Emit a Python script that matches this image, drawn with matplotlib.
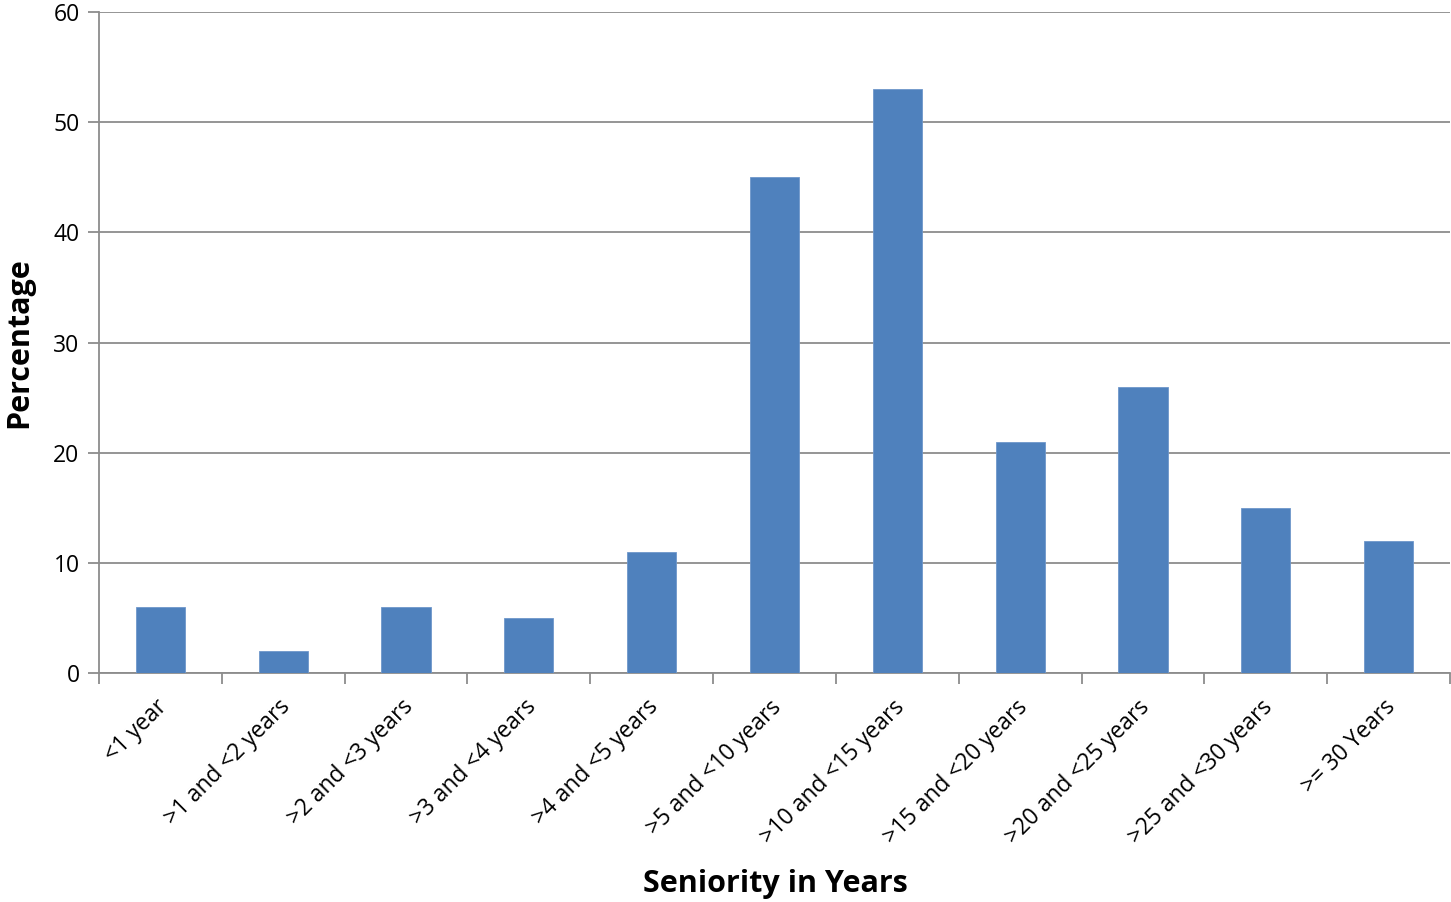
import matplotlib
matplotlib.use("Agg")
import matplotlib.pyplot as plt
from matplotlib.transforms import ScaledTranslation

categories = ["<1 year", ">1 and <2 years", ">2 and <3 years", ">3 and <4 years",
              ">4 and <5 years", ">5 and <10 years", ">10 and <15 years",
              ">15 and <20 years", ">20 and <25 years", ">25 and <30 years",
              ">= 30 Years"]
percentages = [6, 2, 6, 5, 11, 45, 53, 21, 26, 15, 12]
y_ticks = [0, 10, 20, 30, 40, 50, 60]

plt.rcParams["font.family"] = ["Open Sans", "DejaVu Sans"]

fig = plt.figure(figsize=(14.51, 9.02), dpi=100)
ax = fig.add_axes([99 / 1451, 1 - 673 / 902, (1450 - 99) / 1451, (673 - 12) / 902])

grid_color = "#8C8C8C"
bar_color = "#4F81BD"

x = list(range(len(categories)))
ax.bar(x, percentages, width=0.4, color=bar_color, edgecolor="#6F97CB",
       linewidth=0.6, zorder=3)

ax.set_xlim(-0.5, len(categories) - 0.5)
ax.set_ylim(0, 60)
ax.set_yticks(y_ticks)
ax.set_yticklabels([str(v) for v in y_ticks], fontsize=16.5)
ax.yaxis.grid(True, color=grid_color, linewidth=1.3, zorder=0)

# category labels at bar centres, tick marks on category boundaries
ax.set_xticks(x)
ax.set_xticklabels(categories, rotation=45, ha="right", va="top",
                   rotation_mode="anchor", fontsize=16.4)
ax.tick_params(axis="x", which="major", length=0, pad=16)
shift = ScaledTranslation(-5 / 100, 0, fig.dpi_scale_trans)
for lbl in ax.get_xticklabels():
    lbl.set_transform(lbl.get_transform() + shift)
ax.set_xticks([i - 0.5 for i in range(len(categories) + 1)], minor=True)
ax.tick_params(axis="x", which="minor", length=8, width=1.3, color=grid_color)
ax.tick_params(axis="y", length=8, width=1.3, color=grid_color, pad=6)

for side in ["top", "right"]:
    ax.spines[side].set_visible(False)
for side in ["left", "bottom"]:
    ax.spines[side].set_color(grid_color)
    ax.spines[side].set_linewidth(1.3)

ax.set_xlabel("Seniority in Years", fontsize=22, fontweight="bold")
ax.set_ylabel("Percentage", fontsize=22, fontweight="bold")
ax.xaxis.set_label_coords((775 - 99) / (1450 - 99), -(884 - 673) / (673 - 12))
ax.yaxis.set_label_coords(-(99 - 19) / (1450 - 99), (673 - 343) / (673 - 12))
ax.xaxis.label.set_va("center")
ax.yaxis.label.set_va("center")

fig.savefig("out.png", dpi=100)
